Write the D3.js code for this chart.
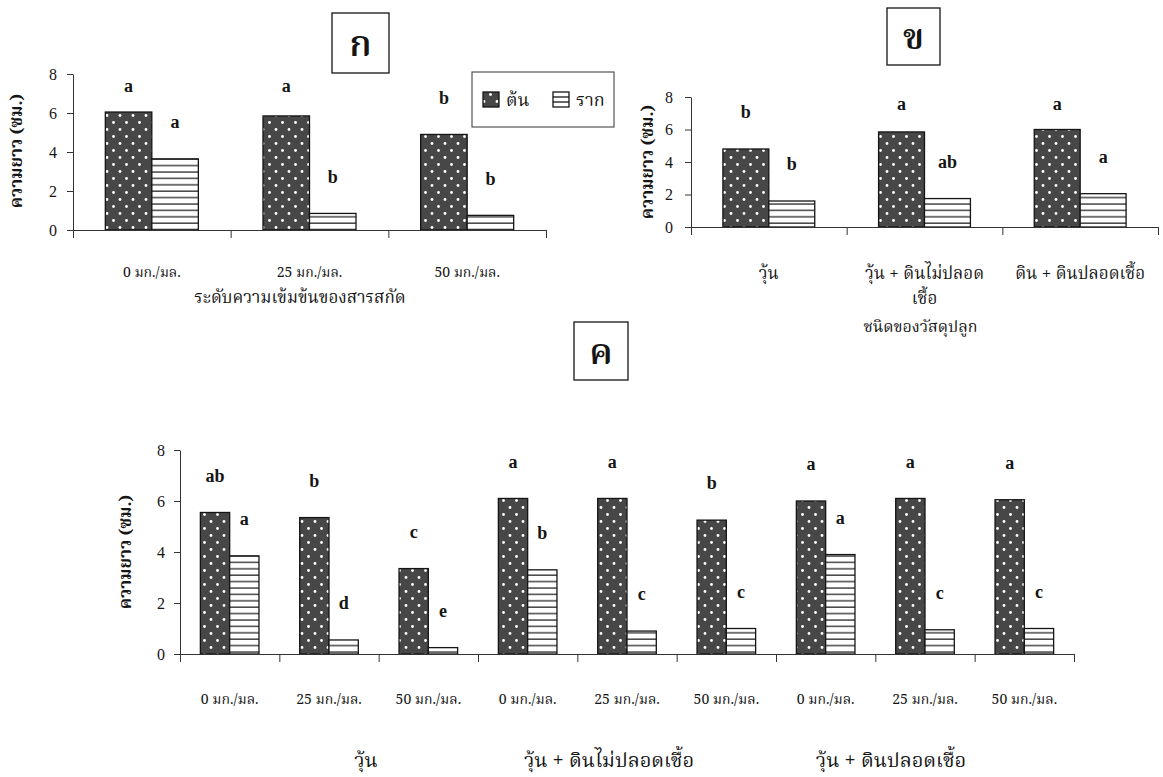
<!DOCTYPE html>
<html>
<head>
<meta charset="utf-8">
<script src="https://cdn.jsdelivr.net/npm/d3@7"></script>
<style>
  body { margin: 0; background: #fff; }
  svg { display: block; }
  .thai { font-family: "Noto Serif Thai", "Noto Sans Thai", "Loma", "Garuda", "Tlwg Typo", "Noto Sans", sans-serif; }
  .num { font-family: "Liberation Serif", "DejaVu Serif", serif; }
</style>
</head>
<body>
<div id="chart"></div>
<script>
const width = 1163;
const height = 777;
const inkColor = '#151515';
const axisColor = '#333';
const stemFill = '#474747';

const seriesNames = ['ต้น', 'ราก'];
const yTicks = [0, 2, 4, 6, 8];
const yTitle = 'ความยาว (ซม.)';

// panel ก : extract concentration
const concCategories = [['0 มก./มล.'], ['25 มก./มล.'], ['50 มก./มล.']];
const concStem = [6.05, 5.85, 4.9];
const concRoot = [3.65, 0.85, 0.75];
const concStemLetters = ['a', 'a', 'b'];
const concRootLetters = ['a', 'b', 'b'];
const concTitle = 'ระดับความเข้มข้นของสารสกัด';

// panel ข : growing media
const mediaCategories = [['วุ้น'], ['วุ้น + ดินไม่ปลอด', 'เชื้อ'], ['ดิน + ดินปลอดเชื้อ']];
const mediaStem = [4.8, 5.85, 6.0];
const mediaRoot = [1.6, 1.75, 2.05];
const mediaStemLetters = ['b', 'a', 'a'];
const mediaRootLetters = ['b', 'ab', 'a'];
const mediaTitle = 'ชนิดของวัสดุปลูก';

// panel ค : media x concentration
const comboCategories = [
  ['0 มก./มล.'], ['25 มก./มล.'], ['50 มก./มล.'],
  ['0 มก./มล.'], ['25 มก./มล.'], ['50 มก./มล.'],
  ['0 มก./มล.'], ['25 มก./มล.'], ['50 มก./มล.']
];
const comboGroups = ['วุ้น', 'วุ้น + ดินไม่ปลอดเชื้อ', 'วุ้น + ดินปลอดเชื้อ'];
const comboStem = [5.55, 5.35, 3.35, 6.1, 6.1, 5.25, 6.0, 6.1, 6.05];
const comboRoot = [3.85, 0.55, 0.25, 3.3, 0.9, 1.0, 3.9, 0.95, 1.0];
const comboStemLetters = ['ab', 'b', 'c', 'a', 'a', 'b', 'a', 'a', 'a'];
const comboRootLetters = ['a', 'd', 'e', 'b', 'c', 'c', 'a', 'c', 'c'];

const svg = d3.select('#chart')
  .append('svg')
  .attr('width', width)
  .attr('height', height);

svg.append('rect').attr('width', width).attr('height', height).attr('fill', '#fff');

const defs = svg.append('defs');
const dots = defs.append('pattern')
  .attr('id', 'dots')
  .attr('patternUnits', 'userSpaceOnUse')
  .attr('width', 13)
  .attr('height', 14);
dots.append('rect').attr('width', 13).attr('height', 14).attr('fill', stemFill);
dots.append('circle').attr('cx', 3).attr('cy', 3.5).attr('r', 1.4).attr('fill', '#fff');
dots.append('circle').attr('cx', 9.5).attr('cy', 10.5).attr('r', 1.4).attr('fill', '#fff');

const lines = defs.append('pattern')
  .attr('id', 'lines')
  .attr('patternUnits', 'userSpaceOnUse')
  .attr('width', 10)
  .attr('height', 6.4);
lines.append('rect').attr('width', 10).attr('height', 6.4).attr('fill', '#fff');
lines.append('line').attr('x1', 0).attr('x2', 10).attr('y1', 5.6).attr('y2', 5.6)
  .attr('stroke', inkColor).attr('stroke-width', 1.2);

function drawPanel(cfg) {
  const g = svg.append('g');
  const n = cfg.categories.length;

  const x = d3.scaleBand()
    .domain(d3.range(n))
    .range([cfg.left, cfg.right]);
  const bw = x.bandwidth();
  const xSub = d3.scaleBand()
    .domain(['stem', 'root'])
    .range([bw * 0.205, bw * 0.795]);
  const y = d3.scaleLinear()
    .domain([0, 8])
    .range([cfg.bottom, cfg.top]);

  const rows = d3.range(n).map(i => ({
    i: i,
    stem: cfg.stem[i],
    root: cfg.root[i],
    stemLetter: cfg.stemLetters[i],
    rootLetter: cfg.rootLetters[i]
  }));

  // bars
  ['stem', 'root'].forEach(key => {
    g.selectAll('rect.' + key)
      .data(rows)
      .join('rect')
      .attr('class', key)
      .attr('x', d => x(d.i) + xSub(key))
      .attr('y', d => y(d[key]))
      .attr('width', xSub.bandwidth())
      .attr('height', d => y(0) - y(d[key]))
      .attr('fill', key === 'stem' ? 'url(#dots)' : 'url(#lines)')
      .attr('stroke', inkColor)
      .attr('stroke-width', 1.3);
  });

  // significance letters
  ['stem', 'root'].forEach(key => {
    g.selectAll('text.l' + key)
      .data(rows)
      .join('text')
      .attr('class', 'num l' + key)
      .attr('x', d => x(d.i) + xSub(key) + xSub.bandwidth() / 2)
      .attr('y', d => Math.max(y(d[key]) - 37, y(cfg.letterCap)))
      .attr('dy', '0.35em')
      .attr('text-anchor', 'middle')
      .style('font-size', '18px')
      .style('font-weight', 'bold')
      .style('fill', inkColor)
      .text(d => d[key + 'Letter']);
  });

  // y axis
  const yAxis = g.append('g')
    .attr('transform', `translate(${cfg.left},0)`)
    .call(d3.axisLeft(y).tickValues(yTicks).tickSize(6).tickSizeOuter(0).tickPadding(cfg.yPad));
  yAxis.selectAll('text')
    .attr('class', 'num')
    .style('font-size', '16px')
    .style('fill', inkColor);

  // x axis: boundary ticks
  const xEdges = d3.scaleLinear().domain([0, n]).range([cfg.left, cfg.right]);
  g.append('g')
    .attr('transform', `translate(0,${cfg.bottom})`)
    .call(d3.axisBottom(xEdges).tickValues(d3.range(n + 1)).tickFormat('').tickSize(8).tickSizeOuter(0));

  // x axis: category labels
  const xLabels = g.append('g')
    .attr('transform', `translate(0,${cfg.bottom})`)
    .call(d3.axisBottom(x).tickSize(0).tickPadding(cfg.xPad).tickFormat(i => ''));
  xLabels.select('.domain').remove();
  xLabels.selectAll('.tick text')
    .attr('class', 'thai')
    .style('font-size', cfg.catFont)
    .style('fill', inkColor)
    .each(function(i) {
      const t = d3.select(this);
      cfg.categories[i].forEach((line, k) => {
        t.append('tspan')
          .attr('x', 0)
          .attr('dy', k === 0 ? '0.71em' : '1.45em')
          .text(line);
      });
    });
  xLabels.selectAll('.tick text').attr('dy', null);

  g.selectAll('.domain, .tick line')
    .attr('stroke', axisColor)
    .attr('stroke-width', 1);

  // y title
  g.append('text')
    .attr('class', 'thai')
    .attr('transform', `translate(${cfg.yTitleX},${(cfg.top + cfg.bottom) / 2 + cfg.yTitleShift}) rotate(-90)`)
    .attr('text-anchor', 'middle')
    .attr('dy', '0.35em')
    .style('font-size', '17px')
    .style('font-weight', 'bold')
    .style('fill', inkColor)
    .text(yTitle);

  // panel tag box
  g.append('rect')
    .attr('x', cfg.tag.x)
    .attr('y', cfg.tag.y)
    .attr('width', cfg.tag.w)
    .attr('height', cfg.tag.h)
    .attr('fill', '#fff')
    .attr('stroke', inkColor)
    .attr('stroke-width', 1.3);
  g.append('text')
    .attr('class', 'thai')
    .attr('x', cfg.tag.x + cfg.tag.w / 2)
    .attr('y', cfg.tag.y + cfg.tag.h / 2)
    .attr('dy', '0.35em')
    .attr('text-anchor', 'middle')
    .style('font-size', '36px')
    .style('font-weight', '600')
    .style('fill', inkColor)
    .text(cfg.tag.label);

  return x;
}

drawPanel({
  left: 73, right: 546, top: 74, bottom: 230,
  categories: concCategories, stem: concStem, root: concRoot,
  stemLetters: concStemLetters, rootLetters: concRootLetters,
  letterCap: 7.4, yPad: 10, xPad: 37, catFont: '14px',
  yTitleX: 16, yTitleShift: -1,
  tag: {x: 332, y: 13, w: 57, h: 60, label: 'ก'}
});

const xMedia = drawPanel({
  left: 691, right: 1158, top: 97, bottom: 227,
  categories: mediaCategories, stem: mediaStem, root: mediaRoot,
  stemLetters: mediaStemLetters, rootLetters: mediaRootLetters,
  letterCap: 7.6, yPad: 12, xPad: 40, catFont: '17px',
  yTitleX: 647, yTitleShift: 0,
  tag: {x: 887, y: 8, w: 53, h: 57, label: 'ข'}
});

const xCombo = drawPanel({
  left: 180, right: 1074, top: 450, bottom: 654,
  categories: comboCategories, stem: comboStem, root: comboRoot,
  stemLetters: comboStemLetters, rootLetters: comboRootLetters,
  letterCap: 7.55, yPad: 9, xPad: 40, catFont: '14px',
  yTitleX: 125, yTitleShift: 0,
  tag: {x: 574, y: 322, w: 54, h: 58, label: 'ค'}
});

// x titles
svg.append('text')
  .attr('class', 'thai')
  .attr('x', 300)
  .attr('y', 297)
  .attr('dy', '0.35em')
  .attr('text-anchor', 'middle')
  .style('font-size', '17px')
  .style('fill', inkColor)
  .text(concTitle);

svg.append('text')
  .attr('class', 'thai')
  .attr('x', xMedia(1) + xMedia.bandwidth() / 2 - 4)
  .attr('y', 326)
  .attr('dy', '0.35em')
  .attr('text-anchor', 'middle')
  .style('font-size', '16px')
  .style('fill', inkColor)
  .text(mediaTitle);

// group labels under panel ค
const groupNudge = [37, -18, -34];
svg.selectAll('text.group')
  .data(comboGroups)
  .join('text')
  .attr('class', 'thai group')
  .attr('x', (d, k) => xCombo(k * 3 + 1) + xCombo.bandwidth() / 2 + groupNudge[k])
  .attr('y', 760)
  .attr('dy', '0.35em')
  .attr('text-anchor', 'middle')
  .style('font-size', '20px')
  .style('fill', inkColor)
  .text(d => d);

// legend
const legend = svg.append('g');
legend.append('rect')
  .attr('x', 472).attr('y', 72).attr('width', 142).attr('height', 55)
  .attr('fill', '#fff').attr('stroke', axisColor).attr('stroke-width', 1);
const legendItems = [
  {name: seriesNames[0], fill: 'url(#dots)', x: 483},
  {name: seriesNames[1], fill: '#fff', x: 553}
];
legendItems.forEach((item, k) => {
  legend.append('rect')
    .attr('x', item.x).attr('y', 92).attr('width', 16).attr('height', 15)
    .attr('fill', item.fill).attr('stroke', inkColor).attr('stroke-width', 1.3);
  if (k === 1) {
    [97, 102].forEach(ly => {
      legend.append('line')
        .attr('x1', item.x).attr('x2', item.x + 16).attr('y1', ly).attr('y2', ly)
        .attr('stroke', inkColor).attr('stroke-width', 1.3);
    });
  }
  legend.append('text')
    .attr('class', 'thai')
    .attr('x', item.x + 23)
    .attr('y', 100)
    .attr('dy', '0.35em')
    .style('font-size', '18px')
    .style('fill', inkColor)
    .text(item.name);
});
</script>
</body>
</html>
